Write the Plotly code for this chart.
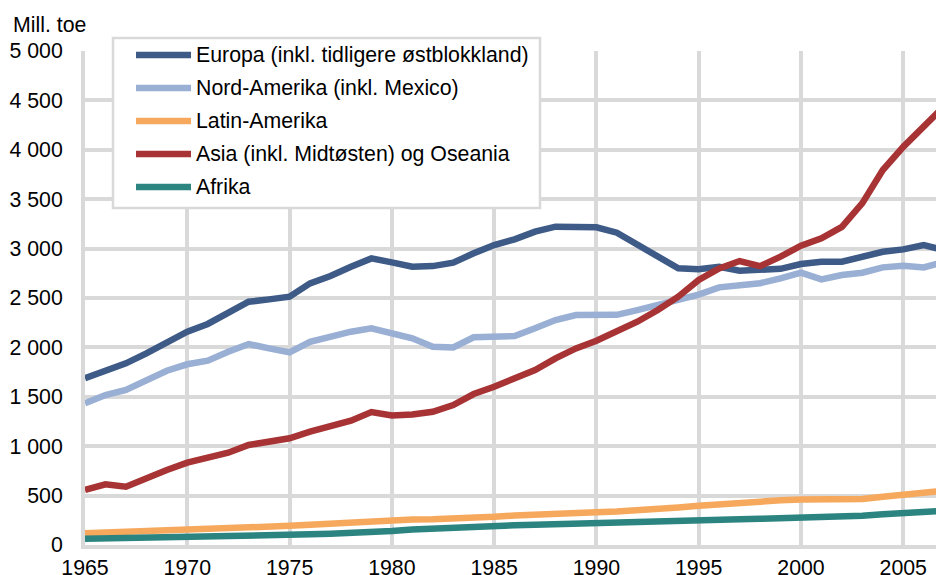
import plotly.graph_objects as go

years = list(range(1965, 2008))

europa = [1687, 1764, 1839, 1940, 2041, 2159, 2237, 2345, 2462, 2486, 2513, 2648, 2722, 2816, 2901,
          2860, 2816, 2823, 2857, 2952, 3036, 3093, 3171, 3222, 3215, 3215, 3161, 3036, 2918, 2800,
          2790, 2815, 2776, 2790, 2795, 2844, 2867, 2867, 2918, 2968, 2992, 3036, 2985]
nord_amerika = [1434, 1518, 1569, 1670, 1764, 1829, 1865, 1956, 2034, 1990, 1950, 2057, 2108, 2159, 2193,
                2149, 2092, 2007, 2000, 2102, 2102, 2115, 2193, 2277, 2328, 2328, 2330, 2378, 2429, 2480,
                2535, 2608, 2631, 2650, 2699, 2756, 2689, 2732, 2756, 2810, 2827, 2810, 2865]
latin_amerika = [118, 124, 130, 137, 144, 152, 160, 168, 180, 188, 194, 206, 218, 230, 245,
                 258, 258, 260, 264, 274, 285, 298, 310, 320, 326, 332, 338, 348, 362, 380,
                 398, 415, 432, 446, 452, 460, 462, 462, 466, 488, 512, 528, 550]
asia = [557, 614, 590, 681, 759, 833, 887, 934, 1012, 1053, 1080, 1147, 1204, 1258, 1345,
        1310, 1320, 1349, 1417, 1528, 1602, 1687, 1771, 1889, 1990, 2068, 2159, 2260, 2378, 2513,
        2682, 2800, 2874, 2823, 2918, 3030, 3105, 3220, 3460, 3795, 4030, 4233, 4440]
afrika = [62, 65, 68, 72, 77, 82, 86, 90, 94, 98, 102, 108, 114, 120, 128,
          142, 156, 168, 178, 186, 194, 200, 206, 213, 219, 224, 226, 228, 232, 240,
          248, 254, 260, 265, 270, 278, 281, 287, 297, 312, 320, 330, 345]

series_names = ["Europa (inkl. tidligere østblokkland)", "Nord-Amerika (inkl. Mexico)",
                "Latin-Amerika", "Asia (inkl. Midtøsten) og Oseania", "Afrika"]
series_values = [europa, nord_amerika, latin_amerika, asia, afrika]
colors = ["#3e5a86", "#99afd4", "#f6a85c", "#a83335", "#2c8480"]

y_tickvals = [0, 500, 1000, 1500, 2000, 2500, 3000, 3500, 4000, 4500, 5000]
y_ticktext = ["0", "500", "1 000", "1 500", "2 000", "2 500", "3 000", "3 500", "4 000", "4 500", "5 000"]
x_tickvals = [1965, 1970, 1975, 1980, 1985, 1990, 1995, 2000, 2005]

W, H = 936, 575
L, R, T, B = 85, 0, 51, 30
FONT = "Liberation Sans, Arial, sans-serif"
FS = 21.3
GRID = "#d9d9d9"

fig = go.Figure()
for name, vals, col in zip(series_names, series_values, colors):
    fig.add_trace(go.Scatter(x=years, y=vals, mode="lines", name=name,
                             line=dict(color=col, width=6.5), showlegend=False))

pw, ph = W - L - R, H - T - B
def px(x):
    return (x - L) / pw
def py(y):
    return (H - B - y) / ph

shapes = []
annotations = []
shapes.append(dict(type="rect", xref="paper", yref="paper",
                   x0=px(113), x1=px(540), y0=py(208), y1=py(38),
                   line=dict(color=GRID, width=2.5), fillcolor="white", layer="above"))
for i, (name, col) in enumerate(zip(series_names, colors)):
    yc = 55 + i * 33
    shapes.append(dict(type="line", xref="paper", yref="paper",
                       x0=px(136), x1=px(191), y0=py(yc), y1=py(yc),
                       line=dict(color=col, width=6.5), layer="above"))
    annotations.append(dict(xref="paper", yref="paper", x=px(194), y=py(yc),
                            text=name, showarrow=False, xanchor="left", yanchor="middle",
                            font=dict(family=FONT, size=FS, color="black")))
annotations.append(dict(xref="paper", yref="paper", x=px(11), y=py(25), text="Mill. toe",
                        showarrow=False, xanchor="left", yanchor="middle",
                        font=dict(family=FONT, size=FS, color="black")))

fig.update_layout(
    width=W, height=H,
    margin=dict(l=L, r=R, t=T, b=B, pad=0, autoexpand=False),
    paper_bgcolor="white", plot_bgcolor="white",
    font=dict(family=FONT, size=FS, color="black"),
    shapes=shapes, annotations=annotations,
    xaxis=dict(range=[1965, 2006.6], tickvals=x_tickvals, showgrid=True, gridcolor=GRID, gridwidth=4,
               showline=True, linecolor=GRID, linewidth=4, zeroline=False, ticks="",
               ticklabelstandoff=0, automargin=False,
               tickfont=dict(family=FONT, size=FS, color="black")),
    yaxis=dict(range=[0, 5000], tickvals=y_tickvals, ticktext=y_ticktext, showgrid=True,
               gridcolor=GRID, gridwidth=4, showline=True, linecolor=GRID, linewidth=4,
               zeroline=False, ticks="", ticklabelstandoff=14, automargin=False,
               tickfont=dict(family=FONT, size=FS, color="black")),
)

fig.write_html("out.html", config={"displayModeBar": False},
               post_script="document.body.style.margin='0';document.body.style.overflow='hidden';")
